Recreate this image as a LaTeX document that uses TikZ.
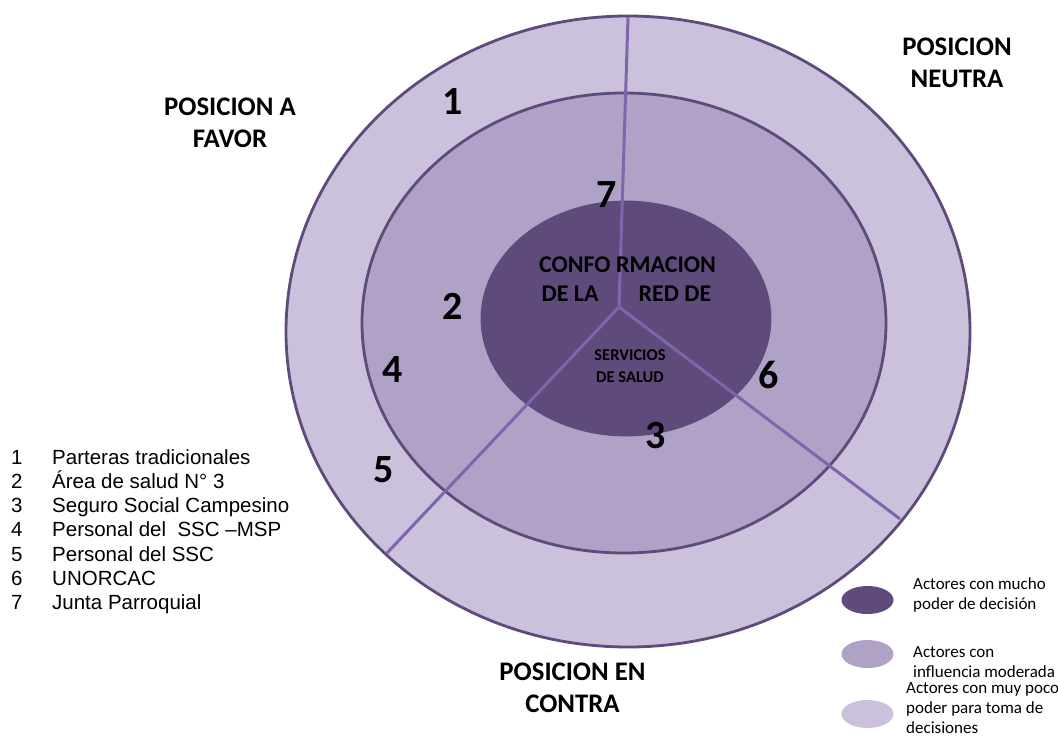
\documentclass[tikz,border=0pt]{standalone}
\usepackage{fontspec}
\usetikzlibrary{shapes.geometric}
\setmainfont{Carlito}
\newfontfamily\arialf{Liberation Sans}
\definecolor{lightp}{HTML}{CBC1DC}
\definecolor{midp}{HTML}{B0A1C7}
\definecolor{darkp}{HTML}{5E4A7B}
\definecolor{linep}{HTML}{7D66AA}
\tikzset{
  ring/.style={draw=darkp, line width=2.8pt},
  radial/.style={draw=linep, line width=3pt},
  num/.style={font=\bfseries\fontsize{40}{40}\selectfont, inner sep=0pt},
  heading/.style={font=\bfseries\fontsize{26.8}{32.5}\selectfont, align=center, inner sep=0pt},
  centertext/.style={font=\bfseries\fontsize{24}{29}\selectfont, inner sep=0pt},
  smallcenter/.style={font=\bfseries\fontsize{16.5}{22}\selectfont, align=center, inner sep=0pt},
  listitem/.style={font=\arialf\fontsize{20.5}{20.5}\selectfont, inner sep=0pt, anchor=base west},
  legtext/.style={font=\fontsize{17}{20}\selectfont, align=left, inner sep=0pt, anchor=west},
  legdot/.style={ellipse, minimum width=52pt, minimum height=28pt, inner sep=0pt},
}
\begin{document}
\begin{tikzpicture}[x=1pt,y=-1pt]
\useasboundingbox (0,0) rectangle (1058,742);
% rings
\draw[ring, fill=lightp] (628,331.5) ellipse [x radius=342pt, y radius=315.5pt];
\draw[ring, fill=midp] (624,323) ellipse [x radius=262pt, y radius=230pt];
\draw[ring, fill=darkp] (626,318.5) ellipse [x radius=144pt, y radius=116.5pt];
% radial dividers
\coordinate (c) at (619,307);
\coordinate (top) at (628,17);
\coordinate (ll) at (387,553);
\coordinate (lr) at (900,519);
\draw[radial] (c) -- (top);
\draw[radial] (c) -- (ll);
\draw[radial] (c) -- (lr);
% center text
\node[centertext] (t1) at (627.5,265) {CONFO RMACION};
\node[centertext] (t2) at (626.5,294) {DE LA\hspace{40pt}RED DE};
\node[smallcenter] (t3) at (630,366) {SERVICIOS\\DE SALUD};
% numbers
\node[num] (n1) at (453,102) {1};
\node[num] (n7) at (607,195) {7};
\node[num] (n2) at (453,306) {2};
\node[num] (n4) at (393,370) {4};
\node[num] (n6) at (769,375) {6};
\node[num] (n5) at (384,470) {5};
\node[num] (n3) at (656,436) {3};
% headings
\node[heading] (hf) at (230,123) {POSICION A\\FAVOR};
\node[heading] (hn) at (957,63) {POSICION\\NEUTRA};
\node[heading] (hc) at (572.5,688) {POSICION EN\\CONTRA};
% list
\foreach \i/\t [count=\k from 0] in {1/Parteras tradicionales,2/Área de salud N° 3,3/Seguro Social Campesino,4/Personal del\ \ SSC –MSP,5/Personal del SSC,6/UNORCAC,7/Junta Parroquial}{
  \node[listitem] (ln\i) at (11,464+24.3*\k) {\i};
  \node[listitem] (lt\i) at (52,464+24.3*\k) {\t};
}
% legend
\node[legdot, fill=darkp] (e1) at (867.5,600) {};
\node[legdot, fill=midp] (e2) at (867.5,654) {};
\node[legdot, fill=lightp] (e3) at (867.5,714) {};
\node[legtext] (l1) at (913,595) {Actores con mucho\\poder de decisión};
\node[legtext] (l2) at (913,662) {Actores con\\influencia moderada};
\node[legtext] (l3) at (906,708) {Actores con muy poco\\poder para toma de\\decisiones};
\end{tikzpicture}
\end{document}
